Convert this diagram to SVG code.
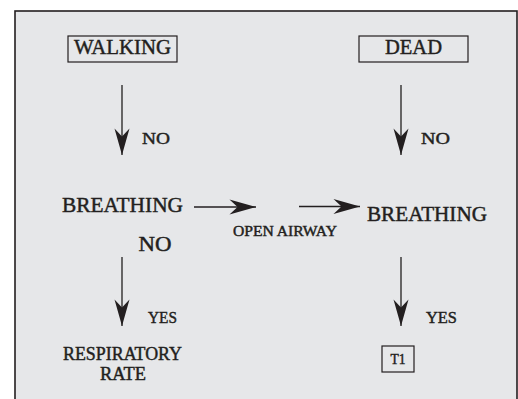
<svg xmlns="http://www.w3.org/2000/svg" width="518" height="399" viewBox="0 0 518 399">
<defs>
<style>
text{font-family:"Liberation Serif","Times New Roman",serif;fill:#231f20;stroke:#231f20;stroke-width:0.45}
.c{text-anchor:middle}
.box{fill:none;stroke:#231f20;stroke-width:1.2}
.ln{fill:none;stroke:#231f20;stroke-width:1.3}
</style>
<marker id="ah" markerUnits="userSpaceOnUse" markerWidth="30" markerHeight="20" viewBox="-24 -8 26 16" refX="0" refY="0" orient="auto">
<path d="M0,0 L-23,-6.5 L-16,0 L-23,6.5 Z" fill="#231f20"/>
</marker>
</defs>
<rect x="0" y="0" width="518" height="399" fill="#ffffff"/>
<rect x="15" y="11" width="502" height="400" fill="#e6e7e9" stroke="#231f20" stroke-width="1.6"/>
<g id="connectors">
<line class="ln" x1="122" y1="85" x2="122" y2="155" marker-end="url(#ah)"/>
<line class="ln" x1="401" y1="85" x2="401" y2="155" marker-end="url(#ah)"/>
<line class="ln" x1="194" y1="207" x2="256" y2="207" marker-end="url(#ah)"/>
<line class="ln" x1="299" y1="206.5" x2="360" y2="206.5" marker-end="url(#ah)"/>
<line class="ln" x1="122" y1="257" x2="122" y2="326" marker-end="url(#ah)"/>
<line class="ln" x1="401" y1="257" x2="401" y2="326" marker-end="url(#ah)"/>
<text x="142" y="144" font-size="17.5" textLength="28" lengthAdjust="spacingAndGlyphs">NO</text>
<text x="421" y="144" font-size="17.5" textLength="29" lengthAdjust="spacingAndGlyphs">NO</text>
<text class="c" x="285" y="236" font-size="14.5" textLength="104" lengthAdjust="spacingAndGlyphs">OPEN AIRWAY</text>
<text class="c" x="155" y="251" font-size="21.5" textLength="33" lengthAdjust="spacingAndGlyphs">NO</text>
<text x="148" y="323" font-size="17.5" textLength="29" lengthAdjust="spacingAndGlyphs">YES</text>
<text x="426" y="323" font-size="17.5" textLength="31" lengthAdjust="spacingAndGlyphs">YES</text>
</g>
<g id="walking">
<rect class="box" x="68" y="36" width="109" height="26"/>
<text class="c" x="122.5" y="54" font-size="21" textLength="97" lengthAdjust="spacingAndGlyphs">WALKING</text>
</g>
<g id="dead">
<rect class="box" x="359" y="36" width="109" height="26"/>
<text class="c" x="413.5" y="54" font-size="21" textLength="57" lengthAdjust="spacingAndGlyphs">DEAD</text>
</g>
<g id="breathing-left">
<text class="c" x="122.5" y="212" font-size="21.5" textLength="121" lengthAdjust="spacingAndGlyphs">BREATHING</text>
</g>
<g id="breathing-right">
<text class="c" x="427" y="221" font-size="21.5" textLength="120" lengthAdjust="spacingAndGlyphs">BREATHING</text>
</g>
<g id="respiratory-rate">
<text class="c" x="122.5" y="360" font-size="18.5" textLength="119" lengthAdjust="spacingAndGlyphs">RESPIRATORY</text>
<text class="c" x="123" y="380" font-size="18.5" textLength="46" lengthAdjust="spacingAndGlyphs">RATE</text>
</g>
<g id="t1">
<rect class="box" x="382" y="346" width="32" height="26"/>
<text class="c" x="398" y="364" font-size="14" textLength="15" lengthAdjust="spacingAndGlyphs">T1</text>
</g>
</svg>
